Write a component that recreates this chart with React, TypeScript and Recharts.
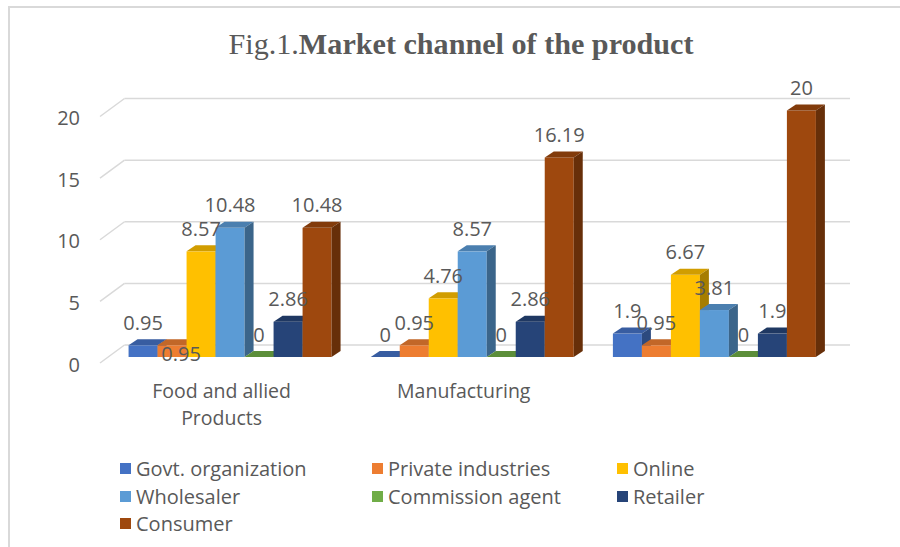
import React from 'react';
import { BarChart, Bar, XAxis, YAxis, CartesianGrid, LabelList } from 'recharts';

// ---- data ----
const categories = ['Food and allied Products', 'Manufacturing', ''];
const seriesNames = [
  'Govt. organization',
  'Private industries',
  'Online',
  'Wholesaler',
  'Commission agent',
  'Retailer',
  'Consumer',
];
const govtOrganization = [0.95, 0, 1.9];
const privateIndustries = [0.95, 0.95, 0.95];
const online = [8.57, 4.76, 6.67];
const wholesaler = [10.48, 8.57, 3.81];
const commissionAgent = [0, 0, 0];
const retailer = [2.86, 2.86, 1.9];
const consumer = [10.48, 16.19, 20];
const yTicks = [0, 5, 10, 15, 20];

const seriesValues = [
  govtOrganization,
  privateIndustries,
  online,
  wholesaler,
  commissionAgent,
  retailer,
  consumer,
];
const seriesColors = ['#4472C4', '#ED7D31', '#FFC000', '#5B9BD5', '#70AD47', '#264478', '#9E480E'];

const data = categories.map((c, i) => {
  const row: any = { category: c };
  seriesValues.forEach((vals, s) => {
    row['s' + s] = vals[i];
  });
  return row;
});

// ---- style helpers ----
const TEXT = '#595959';
const GRID = '#d9d9d9';
const FONT = '"Open Sans", sans-serif';
const DX = 9;
const DY = 6;
const WALL_DX = 17;
const WALL_DY = 12;

function darken(hex: string, f: number) {
  const n = parseInt(hex.slice(1), 16);
  const r = Math.round(((n >> 16) & 255) * (1 - f));
  const g = Math.round(((n >> 8) & 255) * (1 - f));
  const b = Math.round((n & 255) * (1 - f));
  return `rgb(${r},${g},${b})`;
}

const makeShape = (color: string) => (props: any) => {
  const { x, y, width, height } = props;
  if (x == null || y == null) return null;
  const h = Math.max(0, height || 0);
  const top = darken(color, 0.18);
  const side = darken(color, 0.35);
  return (
    <g>
      <rect x={x} y={y} width={width} height={h} fill={color} />
      <polygon
        points={`${x},${y} ${x + DX},${y - DY} ${x + width + DX},${y - DY} ${x + width},${y}`}
        fill={top}
      />
      <polygon
        points={`${x + width},${y} ${x + width + DX},${y - DY} ${x + width + DX},${y + h - DY} ${x + width},${y + h}`}
        fill={side}
      />
    </g>
  );
};

const makeLabel = (seriesIdx: number) => (props: any) => {
  const { x, y, width, value, index } = props;
  let lx = x + width / 2;
  let ly = y - 23;
  // the first "Private industries" label sits lower, over the bar, in the reference
  if (seriesIdx === 1 && index === 0) {
    lx += 9;
    ly = y + 8;
  }
  return (
    <text
      x={lx}
      y={ly}
      textAnchor="middle"
      dominantBaseline="central"
      fill={TEXT}
      fontSize={20}
      fontFamily={FONT}
    >
      {value}
    </text>
  );
};

const YTick = (props: any) => {
  const { y, payload } = props;
  return (
    <text
      x={80}
      y={y + 7}
      textAnchor="end"
      dominantBaseline="central"
      fill={TEXT}
      fontSize={20}
      fontFamily={FONT}
    >
      {payload.value}
    </text>
  );
};

function wrap(label: string, maxChars: number) {
  const words = label.split(' ');
  const lines: string[] = [];
  let cur = '';
  words.forEach((w) => {
    const next = cur ? cur + ' ' + w : w;
    if (next.length > maxChars && cur) {
      lines.push(cur);
      cur = w;
    } else cur = next;
  });
  if (cur) lines.push(cur);
  return lines;
}

const XTick = (props: any) => {
  const { x, y, payload } = props;
  const lines = wrap(String(payload.value || ''), 16);
  return (
    <text x={x - 7} y={y + 41} textAnchor="middle" fill={TEXT} fontSize={19.5} fontFamily={FONT}>
      {lines.map((l, i) => (
        <tspan key={i} x={x - 7} dy={i === 0 ? 0 : 27}>
          {l}
        </tspan>
      ))}
    </text>
  );
};

const gridLine = (p: any) => {
  const { x1, x2, y1, key } = p;
  return (
    <g key={key}>
      <line x1={x1 + WALL_DX} x2={x2 + WALL_DX - 1} y1={y1 - WALL_DY} y2={y1 - WALL_DY} stroke={GRID} strokeWidth={1.5} />
      <line x1={x1 - 7.5} y1={y1 + 6} x2={x1 + WALL_DX} y2={y1 - WALL_DY} stroke={GRID} strokeWidth={1.5} />
    </g>
  );
};

const Legend3 = () => {
  const cols = [120, 372, 617];
  const rowTop = 455;
  const rowH = 27.5;
  return (
    <div style={{ position: 'absolute', left: 0, top: 0, width: 900, height: 547, pointerEvents: 'none' }}>
      {seriesNames.map((name, i) => {
        const col = i % 3;
        const row = Math.floor(i / 3);
        return (
          <div
            key={name}
            style={{
              position: 'absolute',
              left: cols[col],
              top: rowTop + row * rowH,
              height: rowH,
              display: 'flex',
              alignItems: 'center',
              fontFamily: FONT,
              fontSize: 20,
              color: TEXT,
              whiteSpace: 'nowrap',
            }}
          >
            <span
              style={{
                display: 'inline-block',
                width: 11,
                height: 11,
                background: seriesColors[i],
                marginRight: 5,
              }}
            />
            {name}
          </div>
        );
      })}
    </div>
  );
};

export default function App() {
  return (
    <div style={{ position: 'absolute', left: 0, top: 0, width: 900, height: 547, background: '#fff', overflow: 'hidden' }}>
      <div
        style={{
          position: 'absolute',
          left: 8,
          top: 6,
          width: 892,
          height: 541,
          borderTop: `2px solid ${GRID}`,
          borderLeft: `2px solid ${GRID}`,
        }}
      />
      <svg style={{ position: 'absolute', left: 0, top: 0 }} width={900} height={80}>
        <text
          x={461}
          y={54}
          textAnchor="middle"
          fill={TEXT}
          fontSize={30}
          fontFamily='"Liberation Serif", "Times New Roman", serif'
          textLength={465}
          lengthAdjust="spacingAndGlyphs"
        >
          <tspan>Fig.1.</tspan>
          <tspan fontWeight="bold">Market  channel of the product</tspan>
        </text>
      </svg>
      <div style={{ position: 'absolute', left: 0, top: 0 }}>
        <BarChart
          width={900}
          height={547}
          data={data}
          margin={{ top: 110.5, right: 66, bottom: 150, left: 7.5 }}
          barGap={0}
          barCategoryGap="8.7%"
        >
          <CartesianGrid vertical={false} horizontal={gridLine as any} stroke={GRID} />
          <XAxis
            dataKey="category"
            axisLine={false}
            tickLine={false}
            tickSize={0}
            tickMargin={0}
            height={40}
            interval={0}
            tick={<XTick />}
          />
          <YAxis
            domain={[0, 20]}
            ticks={yTicks}
            axisLine={false}
            tickLine={false}
            width={100}
            interval={0}
            tick={<YTick />}
          />
          {seriesNames.map((name, i) => (
            <Bar
              key={name}
              dataKey={'s' + i}
              name={name}
              fill={seriesColors[i]}
              isAnimationActive={false}
              shape={makeShape(seriesColors[i])}
            >
              <LabelList dataKey={'s' + i} content={makeLabel(i)} />
            </Bar>
          ))}
        </BarChart>
      </div>
      <Legend3 />
    </div>
  );
}
